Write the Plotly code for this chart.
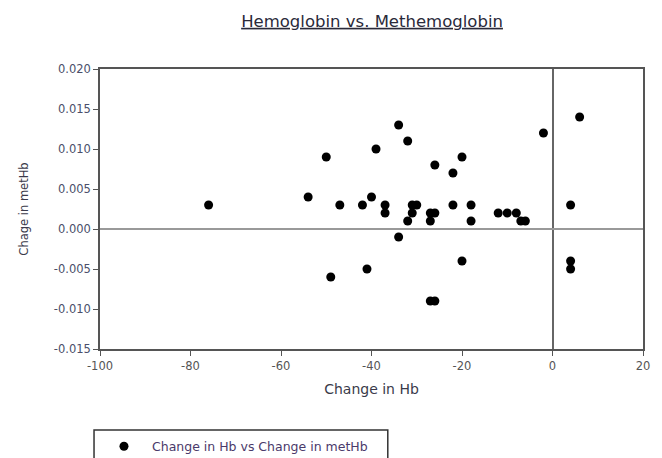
import plotly.graph_objects as go

change_hb = [-76, -54, -50, -47, -49, -42, -40, -41, -39, -37, -37, -34, -34, -32, -32,
             -31, -31, -30, -27, -26, -27, -26, -27, -26, -22, -22, -20, -20, -18, -18,
             -12, -10, -8, -7, -6, -2, 6, 4, 4, 4]
change_methb = [0.003, 0.004, 0.009, 0.003, -0.006, 0.003, 0.004, -0.005, 0.010, 0.003,
                0.002, 0.013, -0.001, 0.011, 0.001, 0.002, 0.003, 0.003, 0.002, 0.002,
                0.001, 0.008, -0.009, -0.009, 0.007, 0.003, 0.009, -0.004, 0.003, 0.001,
                0.002, 0.002, 0.002, 0.001, 0.001, 0.012, 0.014, 0.003, -0.004, -0.005]

x_ticks = [-100, -80, -60, -40, -20, 0, 20]
y_ticks = [-0.015, -0.010, -0.005, 0.000, 0.005, 0.010, 0.015, 0.020]

FONT = "DejaVu Sans, Verdana, sans-serif"

fig = go.Figure()
fig.add_trace(go.Scatter(
    x=change_hb, y=change_methb, mode="markers",
    name="Change in Hb vs Change in metHb",
    marker=dict(color="black", size=9, symbol="circle"),
))

fig.update_layout(
    width=662, height=458,
    margin=dict(l=100, r=19, t=69, b=109, autoexpand=False),
    paper_bgcolor="white", plot_bgcolor="white",
    font=dict(family=FONT, color="#333"),
    title=dict(text="<u>Hemoglobin vs. Methemoglobin</u>",
               x=0.501, xref="paper", xanchor="center",
               y=1 - 21 / 458, yanchor="middle",
               font=dict(size=16.5, color="#2a2a3a", family=FONT)),
    showlegend=True,
    legend=dict(x=-0.0074, y=-0.295, xanchor="left", yanchor="top",
                itemwidth=46,
                bgcolor="rgba(0,0,0,0)", borderwidth=0,
                font=dict(size=12.5, color="#4a3a6a", family=FONT)),
    shapes=[dict(type="rect", xref="paper", yref="paper",
                 x0=-0.011, x1=0.530, y0=-0.289, y1=-0.47,
                 line=dict(color="#333", width=1.5), fillcolor="rgba(0,0,0,0)")],
)

fig.update_xaxes(
    range=[-100, 20], tickvals=x_ticks, ticktext=[str(v) for v in x_ticks],
    showgrid=False, zeroline=True, zerolinecolor="#666", zerolinewidth=1.5,
    showline=True, linecolor="#555", linewidth=1.5, mirror=True,
    ticks="outside", ticklen=5, tickcolor="#555", tickwidth=1.2,
    tickfont=dict(size=11.5, color="#555"),
    title=dict(text="Change in Hb", font=dict(size=14, color="#3a3a4a"), standoff=13),
)
fig.update_yaxes(
    range=[-0.015, 0.020], tickvals=y_ticks, ticktext=[f"{v:.3f}" for v in y_ticks],
    showgrid=False, zeroline=True, zerolinecolor="#999", zerolinewidth=1.5,
    showline=True, linecolor="#555", linewidth=1.5, mirror=True,
    ticks="outside", ticklen=5, tickcolor="#555", tickwidth=1.2,
    tickfont=dict(size=11.5, color="#4a4f6a"),
    title=dict(text="Chage in metHb", font=dict(size=11.5, color="#3a3a4a"), standoff=23),
)

fig.write_html("out.html", config={"displayModeBar": False},
               post_script="document.body.style.margin='0';")
